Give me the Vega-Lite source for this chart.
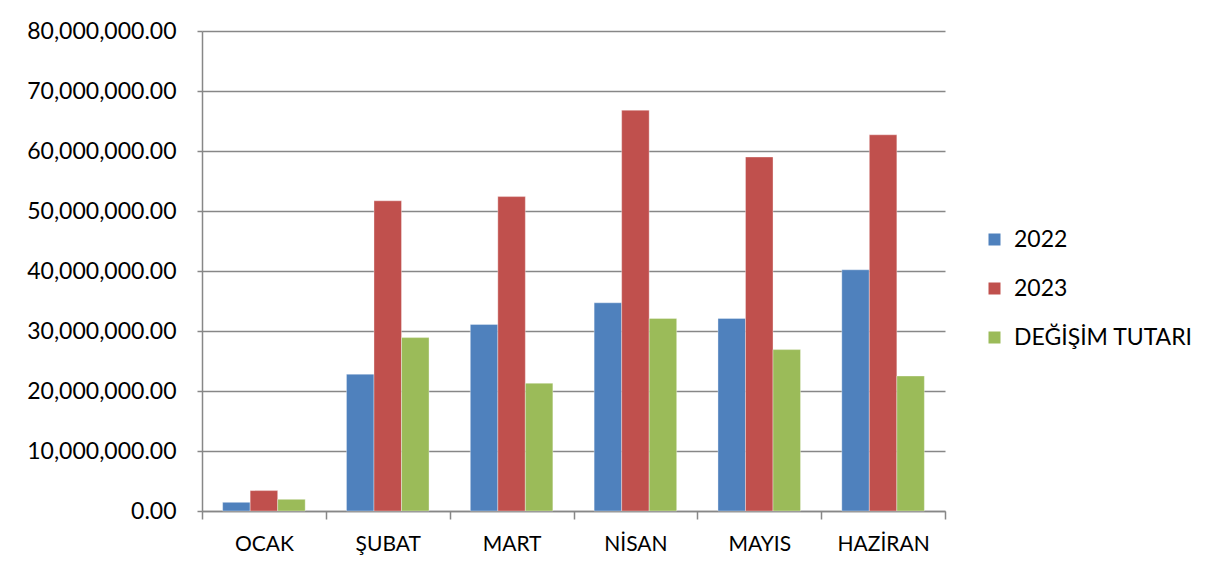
{
  "$schema": "https://vega.github.io/schema/vega-lite/v6.json",
  "width": 743,
  "height": 480,
  "autosize": "none",
  "padding": {"left": 202, "top": 31, "right": 263, "bottom": 68},
  "background": "white",
  "config": {
    "font": "Lato",
    "view": {"stroke": null}
  },
  "data": {
    "values": [
      {"ay": "OCAK", "seri": "2022", "deger": 1450000},
      {"ay": "OCAK", "seri": "2023", "deger": 3400000},
      {"ay": "OCAK", "seri": "DEĞİŞİM TUTARI", "deger": 1950000},
      {"ay": "ŞUBAT", "seri": "2022", "deger": 22800000},
      {"ay": "ŞUBAT", "seri": "2023", "deger": 51700000},
      {"ay": "ŞUBAT", "seri": "DEĞİŞİM TUTARI", "deger": 28900000},
      {"ay": "MART", "seri": "2022", "deger": 31100000},
      {"ay": "MART", "seri": "2023", "deger": 52400000},
      {"ay": "MART", "seri": "DEĞİŞİM TUTARI", "deger": 21300000},
      {"ay": "NİSAN", "seri": "2022", "deger": 34700000},
      {"ay": "NİSAN", "seri": "2023", "deger": 66800000},
      {"ay": "NİSAN", "seri": "DEĞİŞİM TUTARI", "deger": 32100000},
      {"ay": "MAYIS", "seri": "2022", "deger": 32100000},
      {"ay": "MAYIS", "seri": "2023", "deger": 59000000},
      {"ay": "MAYIS", "seri": "DEĞİŞİM TUTARI", "deger": 26900000},
      {"ay": "HAZİRAN", "seri": "2022", "deger": 40200000},
      {"ay": "HAZİRAN", "seri": "2023", "deger": 62700000},
      {"ay": "HAZİRAN", "seri": "DEĞİŞİM TUTARI", "deger": 22500000}
    ]
  },
  "mark": {"type": "bar", "stroke": "white", "strokeOpacity": 0.35, "strokeWidth": 1},
  "encoding": {
    "x": {
      "field": "ay",
      "type": "nominal",
      "sort": null,
      "scale": {"paddingInner": 0, "paddingOuter": 0},
      "axis": {
        "title": null,
        "labelAngle": 0,
        "tickBand": "extent",
        "tickSize": 8,
        "tickColor": "#878787",
        "tickWidth": 1.5,
        "domainColor": "#878787",
        "domainWidth": 1.5,
        "labelFontSize": 21,
        "labelColor": "black",
        "labelPadding": 14,
        "grid": false
      }
    },
    "xOffset": {
      "field": "seri",
      "type": "nominal",
      "scale": {"paddingInner": 0, "paddingOuter": 0.75}
    },
    "y": {
      "field": "deger",
      "type": "quantitative",
      "scale": {"domain": [0, 80000000], "nice": false},
      "axis": {
        "title": null,
        "values": [0, 10000000, 20000000, 30000000, 40000000, 50000000, 60000000, 70000000, 80000000],
        "format": ",.2f",
        "labelOverlap": false,
        "grid": true,
        "gridColor": "#878787",
        "gridWidth": 1.5,
        "domainColor": "#878787",
        "domainWidth": 1.5,
        "tickColor": "#878787",
        "tickWidth": 1.5,
        "tickSize": 5,
        "labelFontSize": 23,
        "labelColor": "black",
        "labelPadding": 21
      }
    },
    "color": {
      "field": "seri",
      "type": "nominal",
      "scale": {"domain": ["2022", "2023", "DEĞİŞİM TUTARI"], "range": ["#4F81BD", "#C0504D", "#9BBB59"]},
      "legend": {
        "title": null,
        "orient": "none",
        "legendX": 781,
        "legendY": 197,
        "symbolType": "square",
        "symbolSize": 144,
        "symbolStrokeWidth": 0,
        "labelFontSize": 23,
        "labelLimit": 0,
        "labelColor": "black",
        "labelOffset": 8,
        "rowPadding": 25
      }
    }
  }
}
